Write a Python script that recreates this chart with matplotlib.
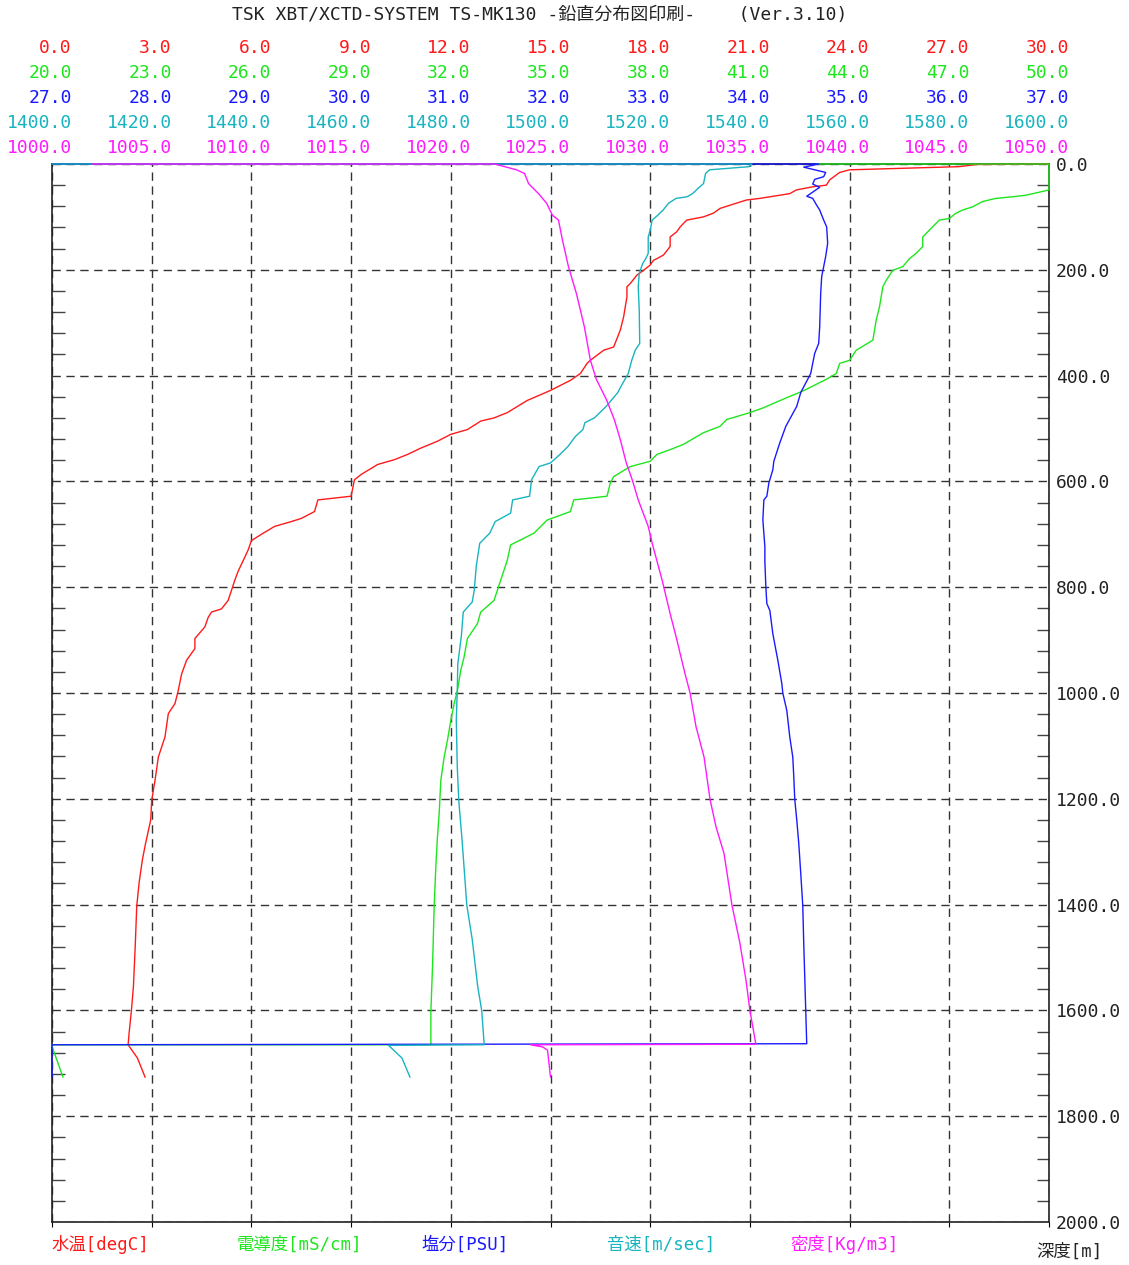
import numpy as np
import matplotlib
matplotlib.use("Agg")
import matplotlib.pyplot as plt
from matplotlib.ticker import MultipleLocator
from matplotlib.transforms import blended_transform_factory, offset_copy

plt.rcParams['font.family'] = ['DejaVu Sans Mono', 'Noto Sans CJK JP']

# ---------------------------------------------------------------------------
# profile data, depth in m
# ---------------------------------------------------------------------------
temp_depth = [0, 1, 5, 11, 16, 30, 40, 43, 49, 56, 65, 68, 84, 93, 100, 106, 119, 128,
              138, 156, 172, 179, 182, 191, 201, 210, 226, 232, 251, 289, 314, 346, 352,
              371, 377, 396, 409, 428, 447, 470, 480, 486, 502, 511, 524, 537, 549, 559,
              568, 587, 597, 628, 635, 657, 670, 676, 685, 700, 712, 730, 750, 770, 787,
              806, 825, 841, 847, 857, 875, 897, 916, 938, 964, 995, 1020, 1039, 1083,
              1121, 1165, 1203, 1240, 1283, 1315, 1359, 1403, 1485, 1555, 1600, 1643,
              1665, 1690, 1726]
temp = [30.0, 27.8, 27.3, 24.0, 23.7, 23.4, 23.3, 22.9, 22.4, 22.2, 21.3, 20.9, 20.1,
        19.9, 19.6, 19.1, 18.9, 18.8, 18.6, 18.6, 18.4, 18.2, 18.1, 18.0, 17.8, 17.6,
        17.4, 17.3, 17.3, 17.2, 17.1, 16.9, 16.6, 16.2, 16.1, 15.9, 15.6, 15.0, 14.3,
        13.7, 13.3, 12.9, 12.5, 12.0, 11.6, 11.1, 10.7, 10.3, 9.8, 9.3, 9.1, 9.0, 8.0,
        7.9, 7.5, 7.2, 6.7, 6.3, 6.0, 5.9, 5.75, 5.6, 5.5, 5.4, 5.3, 5.1, 4.8, 4.7, 4.6,
        4.3, 4.3, 4.05, 3.9, 3.8, 3.7, 3.5, 3.4, 3.2, 3.1, 3.0, 2.97, 2.82, 2.72, 2.62,
        2.55, 2.5, 2.45, 2.39, 2.32, 2.29, 2.57, 2.8]

cond_depth = [0, 0, 49, 52, 59, 62, 65, 71, 81, 87, 93, 103, 106, 125, 138, 156, 169,
              179, 194, 201, 220, 232, 270, 295, 333, 352, 371, 377, 396, 407, 429, 442,
              461, 470, 483, 496, 508, 530, 540, 549, 562, 572, 591, 603, 628, 635, 657,
              673, 698, 720, 749, 787, 825, 847, 869, 897, 932, 957, 995, 1020, 1052,
              1089, 1121, 1165, 1228, 1271, 1327, 1403, 1517, 1603, 1665, 1665, 1668, 1726]
cond = [43.0, 50.0, 50.0, 49.8, 49.3, 48.9, 48.4, 48.0, 47.7, 47.4, 47.2, 47.0, 46.7,
        46.4, 46.2, 46.2, 46.0, 45.8, 45.6, 45.3, 45.1, 45.0, 44.9, 44.8, 44.7, 44.2,
        44.0, 43.7, 43.6, 43.3, 42.6, 42.1, 41.4, 41.0, 40.3, 40.1, 39.6, 39.0, 38.6,
        38.2, 38.0, 37.4, 36.9, 36.8, 36.7, 35.7, 35.6, 34.9, 34.5, 33.8, 33.7, 33.5,
        33.3, 32.9, 32.8, 32.5, 32.4, 32.3, 32.2, 32.1, 32.0, 31.9, 31.8, 31.7, 31.65,
        31.6, 31.55, 31.5, 31.45, 31.4, 31.4, 20.0, 20.0, 20.33]

sal_depth = [0, 0, 6, 16, 24, 29, 38, 44, 61, 65, 78, 87, 106, 119, 150, 175, 194, 213,
             245, 308, 339, 358, 396, 432, 458, 496, 527, 562, 578, 603, 628, 635, 673,
             723, 750, 800, 831, 844, 888, 938, 982, 1000, 1033, 1083, 1121, 1158, 1201,
             1240, 1284, 1341, 1401, 1473, 1536, 1600, 1663, 1665, 1726]
sal = [27.0, 34.69, 34.54, 34.76, 34.74, 34.65, 34.63, 34.70, 34.57, 34.63, 34.67,
       34.70, 34.74, 34.77, 34.78, 34.76, 34.74, 34.72, 34.71, 34.70, 34.69, 34.65,
       34.61, 34.51, 34.47, 34.36, 34.30, 34.24, 34.23, 34.19, 34.17, 34.14, 34.13,
       34.15, 34.15, 34.16, 34.17, 34.20, 34.23, 34.28, 34.32, 34.33, 34.37, 34.40,
       34.43, 34.44, 34.45, 34.47, 34.49, 34.51, 34.53, 34.54, 34.55, 34.56, 34.57,
       27.0, 27.0]

sv_depth = [0, 0, 5, 11, 18, 37, 46, 56, 62, 65, 74, 87, 97, 106, 125, 138, 169, 179,
            188, 207, 232, 276, 339, 352, 371, 396, 421, 432, 458, 480, 489, 502, 515,
            534, 549, 565, 572, 597, 628, 635, 660, 676, 698, 717, 761, 806, 828, 847,
            894, 945, 995, 1052, 1140, 1203, 1283, 1400, 1466, 1555, 1600, 1665,
            1666, 1690, 1726]
sv = [1400.0, 1540.4, 1539.9, 1531.9, 1531.1, 1530.7, 1529.6, 1528.5, 1527.4, 1525.2,
      1523.7, 1522.6, 1521.5, 1520.4, 1520.0, 1519.6, 1519.6, 1519.1, 1518.5, 1517.8,
      1517.6, 1517.8, 1517.9, 1517.0, 1516.3, 1515.6, 1514.1, 1513.5, 1511.2, 1508.8,
      1506.9, 1506.5, 1505.0, 1503.5, 1501.9, 1500.0, 1497.7, 1496.2, 1495.8, 1492.4,
      1492.0, 1488.9, 1487.8, 1485.8, 1485.1, 1484.7, 1484.3, 1482.5, 1482.1, 1481.4,
      1481.3, 1481.1, 1481.3, 1481.6, 1482.3, 1483.2, 1484.3, 1485.4, 1486.2, 1486.7,
      1467.5, 1470.2, 1471.8]

dens_depth = [0, 0, 11, 18, 37, 56, 74, 97, 106, 144, 194, 245, 308, 371, 407, 445, 483,
              521, 565, 597, 635, 685, 717, 787, 850, 894, 964, 1000, 1064, 1121, 1201,
              1253, 1303, 1401, 1473, 1542, 1600, 1664, 1665, 1669, 1675, 1726]
dens = [1002.0, 1022.2, 1023.3, 1023.7, 1023.9, 1024.4, 1024.8, 1025.1, 1025.4, 1025.6,
        1025.9, 1026.3, 1026.7, 1027.0, 1027.3, 1027.8, 1028.2, 1028.5, 1028.8, 1029.1,
        1029.4, 1029.9, 1030.1, 1030.6, 1031.0, 1031.3, 1031.75, 1032.0, 1032.3, 1032.7,
        1033.0, 1033.3, 1033.7, 1034.1, 1034.5, 1034.8, 1035.0, 1035.3, 1024.0, 1024.6,
        1024.85, 1025.0]

# axis ranges and labels
ranges = [(0.0, 30.0), (20.0, 50.0), (27.0, 37.0), (1400.0, 1600.0), (1000.0, 1050.0)]
names = ['水温[degC]', '電導度[mS/cm]', '塩分[PSU]', '音速[m/sec]', '密度[Kg/m3]']
colors = ['#ff1a1a', '#1ee61e', '#1a1aff', '#18b4c0', '#ff1aff']
series = [(temp_depth, temp), (cond_depth, cond), (sal_depth, sal),
          (sv_depth, sv), (dens_depth, dens)]
depth_ticks = np.arange(0, 2001, 200)

W, H = 1129, 1265
fig = plt.figure(figsize=(W / 100, H / 100), dpi=100)
ax = fig.add_axes([52 / W, 1 - 1222 / H, 997 / W, 1058 / H])
ax.set_xlim(0, 30)
ax.set_ylim(2000, 0)
ax.set_xticks(np.arange(0, 31, 3))
ax.tick_params(axis='x', bottom=False, top=False, labelbottom=False)
ax.grid(True, ls=(0, (6, 4)), color='#333333', lw=1.0)
for s in ax.spines.values():
    s.set_color('#222222'); s.set_linewidth(1.2)

ax.yaxis.tick_right()
ax.set_yticks(depth_ticks)
ax.set_yticklabels([f'{v:.1f}' for v in depth_ticks])
ax.yaxis.set_minor_locator(MultipleLocator(40))
ax.tick_params(axis='y', which='major', length=0, pad=5, labelsize=13, labelcolor='#222222')
ax.tick_params(axis='y', which='minor', left=True, right=True, direction='in',
               length=9, width=1.0, color='#444444')

row_off = [116, 91, 66, 41, 16]   # label rows above the frame, px
for (dep, val), (lo, hi), c, off in zip(series, ranges, colors, row_off):
    tw = ax.twiny()
    tw.set_xlim(lo, hi)
    tw.axis('off')
    tw.plot(val, dep, color=c, lw=1.0, clip_on=False)
    base = blended_transform_factory(tw.transData, tw.transAxes)
    tr = offset_copy(base, fig=fig, x=20, y=off, units='dots')
    for v in np.linspace(lo, hi, 11):
        tw.text(v, 1, f'{v:.1f}', transform=tr, ha='right', va='center',
                color=c, fontsize=13, clip_on=False)

fig.text(540 / W, 1 - 15 / H, 'TSK XBT/XCTD-SYSTEM TS-MK130 -鉛直分布図印刷-    (Ver.3.10)',
         ha='center', va='center', fontsize=13, color='#222222')

name_x = [52, 237, 421, 607, 790]
for nm, x, c in zip(names, name_x, colors):
    fig.text(x / W, 1 - 1245 / H, nm, ha='left', va='center', fontsize=12.5, color=c)
fig.text(1036 / W, 1 - 1252 / H, '深度[m]', ha='left', va='center', fontsize=12.5,
         color='#222222')

fig.savefig('out.png', dpi=100)
